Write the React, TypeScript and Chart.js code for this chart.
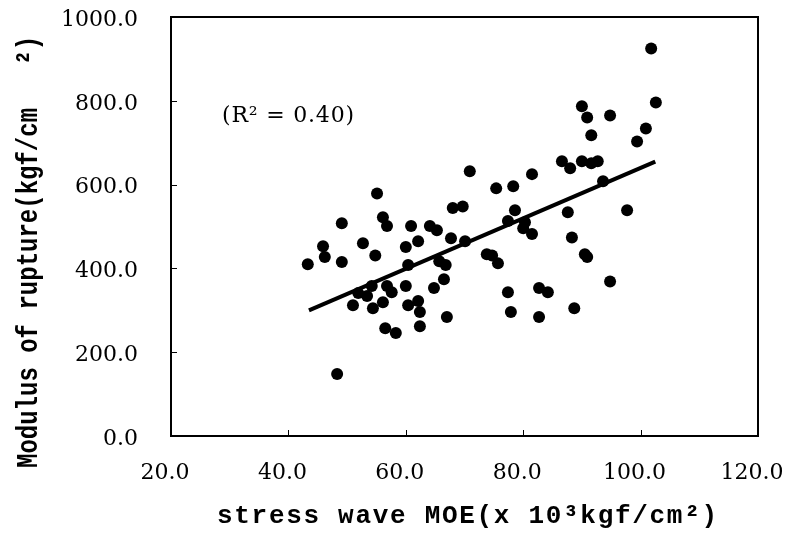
import React, { useEffect, useRef } from 'react';
import { Chart, registerables } from 'chart.js';

Chart.register(...registerables);

// stress wave MOE (x 10^3 kgf/cm^2)
const moeX = [
  43.3, 45.9, 46.2, 49.1, 49.1, 48.3, 51.0, 51.9, 53.4, 54.2,
  54.4, 56.1, 56.8, 57.6, 56.5, 58.3, 52.7, 54.8, 55.1, 56.1,
  56.8, 60.9, 64.1, 65.3, 60.0, 62.1, 67.7, 70.1, 60.4, 65.7,
  66.8, 68.0, 69.7, 70.9, 75.4, 78.3, 78.6, 77.4, 80.3, 80.0,
  81.5, 81.5, 73.8, 74.7, 75.7, 87.6, 88.3, 90.5, 90.9, 86.6,
  88.0, 90.0, 91.6, 92.7, 93.6, 97.7, 90.0, 90.9, 94.8, 91.6,
  99.4, 100.9, 101.8, 102.6, 94.8, 60.0, 64.8, 66.5, 60.4, 62.1,
  62.4, 67.0, 62.4, 77.4, 77.9, 82.7, 84.2, 82.7, 88.7,
];
// modulus of rupture (kgf/cm^2)
const morY = [
  410, 453, 427, 508, 415, 148, 312, 341, 334, 358,
  305, 319, 358, 343, 257, 246, 460, 431, 579, 522,
  501, 501, 501, 491, 451, 465, 472, 465, 408, 417,
  408, 544, 548, 632, 591, 596, 539, 513, 510, 496,
  482, 625, 434, 431, 412, 534, 474, 434, 427, 656,
  639, 656, 651, 656, 608, 539, 787, 760, 765, 718,
  703, 734, 925, 796, 369, 358, 353, 374, 312, 322,
  296, 284, 262, 343, 296, 353, 343, 284, 305,
];

const trendX = [43.5, 102.5];
const trendY = [300, 655];

const xTicks = [20, 40, 60, 80, 100, 120];
const yTicks = [0, 200, 400, 600, 800, 1000];

const xTitle = 'stress wave MOE(x 10³kgf/cm²)';
const yTitle = 'Modulus of rupture(kgf/cm   ²)';
const r2Label = '(R² = 0.40)';
const r2Pos = { x: 28.7, y: 763 };

const framePlugin = {
  id: 'frame',
  afterDraw(chart: any) {
    const { ctx, chartArea: a, scales } = chart;
    ctx.save();
    ctx.strokeStyle = '#000';
    ctx.lineWidth = 1;
    ctx.beginPath();
    for (const v of xTicks) {
      const px = Math.round(scales.x.getPixelForValue(v)) + 0.5;
      ctx.moveTo(px, a.bottom);
      ctx.lineTo(px, a.bottom - 6);
    }
    for (const v of yTicks) {
      const py = Math.round(scales.y.getPixelForValue(v)) + 0.5;
      ctx.moveTo(a.left, py);
      ctx.lineTo(a.left + 6, py);
    }
    ctx.stroke();
    ctx.lineWidth = 2;
    ctx.strokeRect(a.left, a.top, a.right - a.left, a.bottom - a.top);

    ctx.fillStyle = '#000';
    // R^2 annotation
    ctx.font = '22px "DejaVu Serif"';
    ctx.textAlign = 'left';
    ctx.textBaseline = 'middle';
    (ctx as any).letterSpacing = '0.8px';
    ctx.fillText(r2Label, scales.x.getPixelForValue(r2Pos.x), scales.y.getPixelForValue(r2Pos.y));

    // axis titles
    ctx.font = 'bold 26px "Liberation Mono"';
    ctx.textBaseline = 'alphabetic';
    ctx.textAlign = 'left';
    (ctx as any).letterSpacing = '1.7px';
    ctx.fillText(xTitle, 217, 523);
    (ctx as any).letterSpacing = '0px';

    ctx.font = 'bold 24px "Liberation Mono"';
    ctx.save();
    ctx.translate(37, 468);
    ctx.rotate(-Math.PI / 2);
    ctx.scale(1, 1.25);
    ctx.fillText(yTitle, 0, 0);
    ctx.restore();

    ctx.restore();
  },
};

const zeroPad = (s: any) => {
  s.paddingTop = 0;
  s.paddingBottom = 0;
  s.paddingLeft = 0;
  s.paddingRight = 0;
};

export default function App() {
  const ref = useRef<HTMLCanvasElement | null>(null);

  useEffect(() => {
    if (!ref.current) return;
    const points = moeX.map((x, i) => ({ x, y: morY[i] }));
    const trend = trendX.map((x, i) => ({ x, y: trendY[i] }));
    const tickFont = { family: '"DejaVu Serif"', size: 22 };
    const chart = new Chart(ref.current, {
      type: 'scatter',
      data: {
        datasets: [
          {
            label: 'MOR',
            data: points,
            backgroundColor: '#000',
            borderColor: '#000',
            borderWidth: 0,
            pointRadius: 6,
            pointHoverRadius: 6,
          },
          {
            label: 'trend',
            data: trend,
            showLine: true,
            borderColor: '#000',
            borderWidth: 4,
            pointRadius: 0,
            pointHoverRadius: 0,
            fill: false,
          } as any,
        ],
      },
      options: {
        responsive: false,
        animation: false,
        devicePixelRatio: 1,
        layout: { padding: { left: 0, right: 31, top: 17, bottom: 0 } },
        plugins: {
          legend: { display: false },
          tooltip: { enabled: false },
          title: { display: false },
        },
        scales: {
          x: {
            type: 'linear',
            min: 20,
            max: 120,
            afterBuildTicks: (s: any) => {
              s.ticks = xTicks.map((v) => ({ value: v }));
            },
            afterFit: (s: any) => {
              s.height = 100;
              zeroPad(s);
            },
            ticks: {
              callback: (v: any) => Number(v).toFixed(1),
              font: tickFont,
              color: '#000',
              padding: 24,
              labelOffset: -6,
              maxRotation: 0,
              autoSkip: false,
            },
            grid: { display: false, drawTicks: false },
            border: { display: false },
          },
          y: {
            type: 'linear',
            min: 0,
            max: 1000,
            afterBuildTicks: (s: any) => {
              s.ticks = yTicks.map((v) => ({ value: v }));
            },
            afterFit: (s: any) => {
              s.width = 171;
              zeroPad(s);
            },
            ticks: {
              callback: (v: any) => Number(v).toFixed(1),
              font: tickFont,
              color: '#000',
              padding: 33,
              labelOffset: 3,
              autoSkip: false,
            },
            grid: { display: false, drawTicks: false },
            border: { display: false },
          },
        },
      },
      plugins: [framePlugin],
    } as any);
    return () => chart.destroy();
  }, []);

  return (
    <div style={{ position: 'fixed', left: 0, top: 0, width: 789, height: 536, background: '#fff' }}>
      <canvas ref={ref} width={789} height={536} />
    </div>
  );
}
